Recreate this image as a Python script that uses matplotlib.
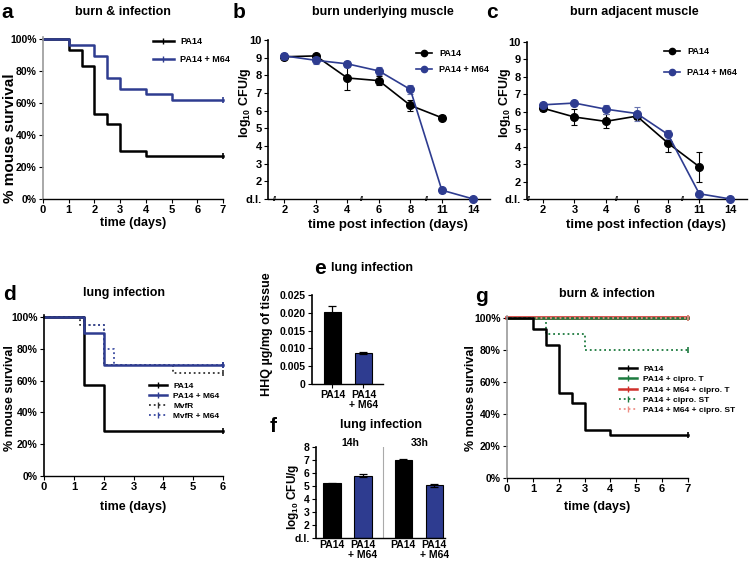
import numpy as np
import matplotlib
matplotlib.use('Agg')
import matplotlib.pyplot as plt
from matplotlib.lines import Line2D

plt.rcParams['font.family'] = ['Liberation Sans', 'DejaVu Sans']
plt.rcParams['font.weight'] = 'bold'
plt.rcParams['axes.labelweight'] = 'bold'
plt.rcParams['mathtext.fontset'] = 'custom'
plt.rcParams['mathtext.rm'] = 'Liberation Sans:bold'
plt.rcParams['mathtext.bf'] = 'Liberation Sans:bold'
plt.rcParams['mathtext.it'] = 'Liberation Sans:bold'

# ---------------- data ----------------
# a: burn & infection survival
a_pa14_t = [0, 1, 1.5, 2, 2.5, 3, 4, 7]
a_pa14_s = [100, 93.3, 83.3, 53.3, 46.7, 30, 26.7, 26.7]
a_m64_t = [0, 1, 2, 2.5, 3, 4, 5, 7]
a_m64_s = [100, 96.6, 89.7, 75.9, 69.0, 65.5, 62.1, 62.1]

# b / c: bacterial load
day_labels = ['2', '3', '4', '6', '8', '11', '14']
b_pa14 = [9.05, 9.1, 7.85, 7.7, 6.3, 5.6]
b_pa14_err = [0.15, 0.1, 0.7, 0.25, 0.3, 0.15]
b_m64 = [9.1, 8.85, 8.65, 8.25, 7.2, 1.5, 1.0]
b_m64_err = [0.15, 0.2, 0.15, 0.25, 0.25, 0.15, 0.0]
c_pa14 = [6.2, 5.7, 5.45, 5.75, 4.2, 2.85]
c_pa14_err = [0.15, 0.45, 0.4, 0.15, 0.5, 0.85]
c_m64 = [6.4, 6.5, 6.15, 5.9, 4.7, 1.3, 1.0]
c_m64_err = [0.1, 0.05, 0.25, 0.4, 0.25, 0.05, 0.0]
load_ticks = [1, 2, 3, 4, 5, 6, 7, 8, 9, 10]
load_ticklabels = ['d.l.', '2', '3', '4', '5', '6', '7', '8', '9', '10']

# d: lung infection survival
d_pa14_t = [0, 1.33, 2, 6]
d_pa14_s = [100, 57.1, 28.6, 28.6]
d_m64_t = [0, 1.33, 2, 6]
d_m64_s = [100, 90, 70, 70]
d_mvfr_t = [0, 1.2, 2, 4.33, 6]
d_mvfr_s = [100, 95, 70, 65, 65]
d_mvfrm64_t = [0, 1.33, 2, 2.33, 6]
d_mvfrm64_s = [100, 95, 80, 70, 70]

# e: HHQ
e_labels = ['PA14', 'PA14\n+ M64']
e_vals = [0.0202, 0.0087]
e_err = [0.0018, 0.0004]

# f: lung CFU
f_labels = ['PA14', 'PA14\n+ M64', 'PA14', 'PA14\n+ M64']
f_vals = [5.2, 5.8, 7.0, 5.05]
f_err = [0.05, 0.12, 0.07, 0.1]

# g: burn & infection with cipro
g_pa14_t = a_pa14_t
g_pa14_s = a_pa14_s
g_cipT_t = [0, 7]; g_cipT_s = [100, 100]
g_m64cipT_t = [0, 7]; g_m64cipT_s = [100, 100]
g_cipST_t = [0, 1.5, 3, 7]; g_cipST_s = [100, 90, 80, 80]
g_m64cipST_t = [0, 7]; g_m64cipST_s = [100, 100]

# ---------------- layout helpers ----------------
W, H = 751, 566
fig = plt.figure(figsize=(W / 100, H / 100), dpi=100)
BLUE = '#2e3c90'
GREEN = '#1c7a3e'
RED = '#d0302a'
PINK = '#ee8f86'
GREY = '#9a9a9a'


def axpx(l, t, r, b):
    return fig.add_axes([l / W, 1 - b / H, (r - l) / W, (b - t) / H])


def style(ax, left_grey=False, xs=8, ys=7.5):
    for s in ['top', 'right']:
        ax.spines[s].set_visible(False)
    ax.spines['left'].set_color(GREY if left_grey else 'black')
    ax.spines['left'].set_linewidth(1.2)
    ax.spines['bottom'].set_linewidth(1.0)
    ax.tick_params(direction='out', length=3, width=0.8, pad=1.5)
    ax.tick_params(axis='x', labelsize=xs)
    ax.tick_params(axis='y', labelsize=ys)


def ylab(ax, text, xc, yc, size):
    ax.set_ylabel(text, fontsize=size, fontweight='bold')
    ax.yaxis.set_label_coords(xc / W, 1 - yc / H, transform=fig.transFigure)
    ax.yaxis.label.set_verticalalignment('center')


def xlab(ax, text, xc, yc, size):
    ax.set_xlabel(text, fontsize=size, fontweight='bold')
    ax.xaxis.set_label_coords(xc / W, 1 - yc / H, transform=fig.transFigure)
    ax.xaxis.label.set_verticalalignment('center')


def ftext(x, y, s, size, **kw):
    fig.text(x / W, 1 - y / H, s, fontsize=size, fontweight='bold',
             ha=kw.pop('ha', 'center'), va=kw.pop('va', 'center'), **kw)


def legpx(ax, handles, labels, x, y, size, hl, lsp, htp=0.6):
    ax.legend(handles, labels, loc='upper left', bbox_to_anchor=(x / W, 1 - y / H),
              bbox_transform=fig.transFigure, frameon=False, borderpad=0,
              borderaxespad=0, handlelength=hl, handletextpad=htp,
              labelspacing=lsp, prop={'size': size, 'weight': 'bold'})


def surv(ax, t, s, color, lw=1.8, ls='-'):
    ax.step(t, s, where='post', color=color, lw=lw, ls=ls, clip_on=False)
    ax.plot([t[-1]], [s[-1]], marker='|', ms=5, mew=1.2, color=color, clip_on=False)


def tick_handle(color, lw=1.8, ls='-'):
    return Line2D([], [], color=color, lw=lw, ls=ls, marker='|', ms=4, mew=1)


pct = ['0%', '20%', '40%', '60%', '80%', '100%']

# ---------------- panel a ----------------
ax = axpx(43, 37, 223, 199)
style(ax, left_grey=True, xs=8, ys=7.5)
surv(ax, a_pa14_t, a_pa14_s, 'black')
surv(ax, a_m64_t, a_m64_s, BLUE)
ax.set_xlim(0, 7)
ax.set_ylim(0, 101.3)
ax.set_xticks(range(8))
ax.set_yticks([0, 20, 40, 60, 80, 100])
ax.set_yticklabels(pct)
ylab(ax, '% mouse survival', 10, 138, 11)
xlab(ax, 'time (days)', 133, 223, 9)
legpx(ax, [tick_handle('black'), tick_handle(BLUE)], ['PA14', 'PA14 + M64'],
      153, 37, 6.5, 2.3, 1.0, 0.7)
ftext(123, 12, 'burn & infection', 9)
ftext(7, 12, 'a', 15)


# ---------------- panels b, c ----------------
def load_panel(box, pa, pae, mm, mme, breaks, ylx, xlx, leg, title, letter):
    ax = axpx(*box)
    style(ax, xs=8, ys=8)
    x = np.arange(len(day_labels))
    ax.errorbar(x[:len(pa)], pa, yerr=pae, fmt='-o', color='black', ms=5.5,
                lw=1.2, capsize=2, elinewidth=0.8, capthick=0.8, clip_on=False, zorder=3)
    ax.errorbar(x, mm, yerr=mme, fmt='-o', color=BLUE, ecolor='#6a75b0', ms=5.5,
                lw=1.2, capsize=2, elinewidth=0.8, capthick=0.8, clip_on=False, zorder=4)
    ax.set_xlim(-0.52, 6.53)
    ax.set_ylim(1, 10)
    ax.set_xticks(x)
    ax.set_xticklabels(day_labels)
    ax.set_yticks(load_ticks)
    ax.set_yticklabels(load_ticklabels)
    for bx in breaks:
        ax.text(bx, 1, '//', fontsize=5, ha='center', va='center', clip_on=False,
                fontweight='bold', zorder=5)
    ylab(ax, r'log$_{10}$ CFU/g', ylx, 103, 9)
    xlab(ax, 'time post infection (days)', xlx, 225, 9.5)
    hd = [Line2D([], [], color='black', lw=1.2, marker='o', ms=4.5),
          Line2D([], [], color=BLUE, lw=1.2, marker='o', ms=4.5)]
    legpx(ax, hd, ['PA14', 'PA14 + M64'], leg[0], leg[1], 6.5, 1.8, leg[2], 0.8)
    ftext(title[0], 12, title[1], 9)
    ftext(letter[0], letter[1], letter[2], 15)


load_panel((268, 40, 490, 199), b_pa14, b_pa14_err, b_m64, b_m64_err,
           [-0.29, 2.47, 4.53], 245, 388, (416, 49, 0.75),
           (383, 'burn underlying muscle'), (239, 12, 'b'))
load_panel((527, 42, 747, 199), c_pa14, c_pa14_err, c_m64, c_m64_err,
           [-0.45, 2.35, 4.49], 505, 646, (664, 47, 1.35),
           (634, 'burn adjacent muscle'), (492, 13, 'c'))

# ---------------- panel d ----------------
ax = axpx(44, 315, 223, 476)
style(ax, left_grey=False, xs=8, ys=7.5)
surv(ax, d_mvfr_t, d_mvfr_s, '#333333', lw=1.3, ls=':')
surv(ax, d_mvfrm64_t, d_mvfrm64_s, '#3a4aa0', lw=1.3, ls=':')
surv(ax, d_pa14_t, d_pa14_s, 'black')
surv(ax, d_m64_t, d_m64_s, BLUE)
ax.set_xlim(0, 6)
ax.set_ylim(0, 101.3)
ax.set_xticks(range(7))
ax.set_yticks([0, 20, 40, 60, 80, 100])
ax.set_yticklabels(pct)
ylab(ax, '% mouse survival', 10, 398, 9)
xlab(ax, 'time (days)', 133, 507, 9)
legpx(ax, [tick_handle('black'), tick_handle(BLUE), tick_handle('#333333', 1.3, ':'),
           tick_handle('#3a4aa0', 1.3, ':')],
      ['PA14', 'PA14 + M64', 'MvfR', 'MvfR + M64'], 149, 382, 6, 2.2, 0.25, 0.7)
ftext(124, 293, 'lung infection', 9)
ftext(9, 295, 'd', 15)

# ---------------- panel e ----------------
ax = axpx(312, 295, 383, 384)
style(ax, xs=7.5, ys=7.5)
ax.bar([0, 1], e_vals, width=0.56, color=['black', BLUE], edgecolor='black', lw=0.8,
       yerr=e_err, capsize=3, error_kw={'elinewidth': 0.9, 'capthick': 0.9})
ax.set_xlim(-0.66, 1.63)
ax.set_ylim(0, 0.025)
ax.set_xticks([0, 1])
ax.set_xticklabels(e_labels, linespacing=0.95)
ax.set_yticks([0, 0.005, 0.01, 0.015, 0.02, 0.025])
ax.set_yticklabels(['0', '0.005', '0.010', '0.015', '0.020', '0.025'])
ylab(ax, 'HHQ µg/mg of tissue', 267, 334, 9)
ftext(372, 268, 'lung infection', 9)
ftext(320, 268, 'e', 15)

# ---------------- panel f ----------------
ax = axpx(316, 447, 445, 538)
style(ax, xs=7.5, ys=7.5)
fx = [0, 1, 2.3, 3.3]
ax.bar(fx, [v - 1 for v in f_vals], bottom=1, width=0.56,
       color=['black', BLUE, 'black', BLUE], edgecolor='black', lw=0.8,
       yerr=f_err, capsize=3, error_kw={'elinewidth': 0.9, 'capthick': 0.9})
ax.axvline(1.66, color='#aaaaaa', lw=0.8)
ax.set_xlim(-0.52, 3.65)
ax.set_ylim(1, 8)
ax.set_xticks(fx)
ax.set_xticklabels(f_labels, linespacing=0.95)
ax.set_yticks([1, 2, 3, 4, 5, 6, 7, 8])
ax.set_yticklabels(['d.l.', '2', '3', '4', '5', '6', '7', '8'])
ax.tick_params(axis='x', length=0)
ylab(ax, r'log$_{10}$ CFU/g', 293, 497, 8.5)
ftext(350, 443, '14h', 7.5)
ftext(420, 443, '33h', 7.5)
ftext(381, 425, 'lung infection', 9)
ftext(273, 427, 'f', 15)

# ---------------- panel g ----------------
ax = axpx(507, 316, 688, 478)
style(ax, left_grey=True, xs=8, ys=7.5)
surv(ax, g_m64cipT_t, g_m64cipT_s, RED, lw=2.6)
surv(ax, g_cipT_t, g_cipT_s, GREEN, lw=1.8)
surv(ax, g_cipST_t, g_cipST_s, GREEN, lw=1.3, ls=':')
surv(ax, g_m64cipST_t, g_m64cipST_s, PINK, lw=1.3, ls=':')
surv(ax, g_pa14_t, g_pa14_s, 'black')
ax.set_xlim(0, 7)
ax.set_ylim(0, 101.3)
ax.set_xticks(range(8))
ax.set_yticks([0, 20, 40, 60, 80, 100])
ax.set_yticklabels(pct)
ylab(ax, '% mouse survival', 471, 398, 9)
xlab(ax, 'time (days)', 597, 507, 9)
legpx(ax, [tick_handle('black'), tick_handle(GREEN), tick_handle(RED),
           tick_handle(GREEN, 1.3, ':'), tick_handle(PINK, 1.3, ':')],
      ['PA14', 'PA14 + cipro. T', 'PA14 + M64 + cipro. T', 'PA14 + cipro. ST',
       'PA14 + M64 + cipro. ST'], 619, 365, 6, 2.2, 0.3, 0.7)
ftext(607, 294, 'burn & infection', 9)
ftext(481, 297, 'g', 15)

fig.savefig('out.png', dpi=100)
